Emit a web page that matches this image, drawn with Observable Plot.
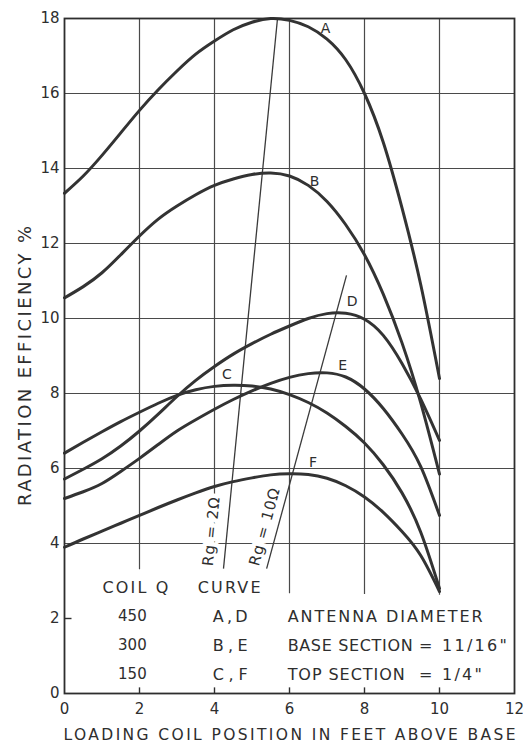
<!DOCTYPE html>
<html>
<head>
<meta charset="utf-8">
<script src="https://cdn.jsdelivr.net/npm/d3@7"></script>
<script src="https://cdn.jsdelivr.net/npm/@observablehq/plot@0.6"></script>
<style>
  html, body { margin: 0; padding: 0; background: #ffffff; }
  #chart svg { display: block; }
  g[aria-description="rglabel"] text { letter-spacing: 1px; }
</style>
</head>
<body>
<div id="chart"></div>
<script>
// ---- data ----
const positions = [0,0.5,1,1.5,2,2.5,3,3.5,4,4.5,5,5.5,6,6.5,7,7.5,8,8.5,9,9.5,10];
const curveA = [13.34,13.8,14.35,14.95,15.55,16.1,16.6,17.05,17.4,17.7,17.9,18.0,17.95,17.78,17.45,16.9,16.0,14.7,12.95,10.9,8.4];
const curveB = [10.55,10.85,11.22,11.7,12.2,12.65,13.0,13.3,13.55,13.72,13.84,13.88,13.8,13.55,13.12,12.5,11.7,10.65,9.35,7.75,5.85];
const curveC = [6.41,6.7,6.98,7.25,7.5,7.74,7.95,8.1,8.19,8.22,8.2,8.12,7.97,7.76,7.48,7.12,6.68,6.1,5.35,4.3,2.8];
const curveD = [5.72,5.98,6.26,6.6,7.0,7.45,7.92,8.35,8.72,9.05,9.33,9.58,9.8,10.0,10.13,10.14,9.98,9.55,8.8,7.85,6.75];
const curveE = [5.2,5.38,5.6,5.92,6.27,6.64,7.0,7.3,7.58,7.84,8.07,8.27,8.43,8.53,8.55,8.44,8.12,7.6,6.92,6.05,4.75];
const curveF = [3.9,4.12,4.33,4.54,4.75,4.96,5.16,5.35,5.52,5.65,5.75,5.83,5.86,5.84,5.74,5.54,5.24,4.83,4.32,3.68,2.72];
const seriesNames = ["A","B","C","D","E","F"];
const seriesValues = [curveA, curveB, curveC, curveD, curveE, curveF];

const labelX = [6.96, 6.67, 4.33, 7.67, 7.42, 6.63];
const labelY = [17.72, 13.65, 8.51, 10.45, 8.75, 6.16];

const rgNames = ["Rg = 2Ω", "Rg = 10Ω"];
const rgX1 = [4.24, 5.39];
const rgY1 = [3.33, 3.33];
const rgX2 = [5.68, 7.52];
const rgY2 = [18.0, 11.15];
const rgLabelX = [3.92, 5.34];
const rgLabelY = [4.33, 4.45];

const xTicks = [0,2,4,6,8,10,12];
const yTicks = [0,2,4,6,8,10,12,14,16,18];
const gridY = [4,6,8,10,12,14,16];
const gridX = [2,4,6,8,10];
const gridXBottom = [3.3,3.9,2.66,2.64,2.62];
const innerTicksX = [2,4,6,8,10];
const innerTicksY = [2];

const legendHeader = ["COIL Q", "CURVE"];
const coilQ = ["450", "300", "150"];
const curvePairs = ["A , D", "B , E", "C , F"];
const notes = ["ANTENNA DIAMETER", "BASE SECTION", "TOP SECTION"];
const noteValues = ["", "= 11/16\"", "= 1/4\""];

const xTitle = "LOADING COIL POSITION IN FEET ABOVE BASE";
const yTitle = "RADIATION EFFICIENCY %";

// ---- layout ----
const W = 523, H = 747;
const mL = 64, mR = 9, mT = 18, mB = 54;
const kx = (W - mL - mR) / 12, ky = (H - mT - mB) / 18;
const ink = "#2e2e2e";
const font = "DejaVu Sans";

// rendered widths (px) of the spaced-out lettering, as in the reference
const textWidths = new Map([
  [xTitle, 452], [yTitle, 280],
  ["COIL Q", 66], ["CURVE", 63],
  ["A , D", 35], ["B , E", 35], ["C , F", 35],
  ["ANTENNA DIAMETER", 195], ["BASE SECTION", 125], ["TOP SECTION", 117],
  ["= 11/16\"", 88], ["= 1/4\"", 63]
]);

const curveTable = [];
seriesNames.forEach((name, i) => positions.forEach((x, j) => curveTable.push({series: name, x, y: seriesValues[i][j]})));
const labelTable = seriesNames.map((s, i) => ({s, x: labelX[i], y: labelY[i]}));
const rgTable = rgNames.map((name, i) => ({
  name, x1: rgX1[i], y1: rgY1[i], x2: rgX2[i], y2: rgY2[i], lx: rgLabelX[i], ly: rgLabelY[i],
  angle: Math.atan2(-(rgY2[i] - rgY1[i]) * ky, (rgX2[i] - rgX1[i]) * kx) * 180 / Math.PI
}));
const gridXTable = gridX.map((x, i) => ({x, y1: gridXBottom[i]}));

// legend layout (data-space rows)
const headerY = 2.83;
const rowY = [2.05, 1.28, 0.51];
const colQ = 1.81, colCurve = 3.95, colNote = 5.95, colEq = 9.45;
const headerX = [1.01, 3.55];

const legendRows = coilQ.map((q, i) => ({q, c: curvePairs[i], n: notes[i], v: noteValues[i], y: rowY[i]}));
const headerRows = legendHeader.map((h, i) => ({h, x: headerX[i], y: headerY}));

const rgMarks = rgTable.map(d => Plot.text([d], {
  x: "lx", y: "ly", text: "name", rotate: d.angle, fontSize: 15, fill: ink,
  stroke: "white", strokeWidth: 9, paintOrder: "stroke", ariaDescription: "rglabel"
}));

const chart = Plot.plot({
  width: W, height: H,
  marginLeft: mL, marginRight: mR, marginTop: mT, marginBottom: mB,
  x: {domain: [0, 12]},
  y: {domain: [0, 18]},
  style: {fontFamily: font, fontSize: "15px", color: ink, background: "white"},
  marks: [
    Plot.ruleY(gridY, {x1: 0, x2: 12, stroke: "#4a4a4a", strokeWidth: 1.2}),
    Plot.ruleX(gridXTable, {x: "x", y1: "y1", y2: 18, stroke: "#4a4a4a", strokeWidth: 1.2}),
    Plot.ruleX(innerTicksX, {y1: 0, y2: 0.15, stroke: ink, strokeWidth: 1.4}),
    Plot.ruleY(innerTicksY, {x1: 0, x2: 0.2, stroke: ink, strokeWidth: 1.4}),
    ...rgMarks,
    Plot.link(rgTable, {x1: "x1", y1: "y1", x2: "x2", y2: "y2", stroke: "#3a3a3a", strokeWidth: 1.3}),
    Plot.line(curveTable, {x: "x", y: "y", z: "series", curve: "natural", stroke: "#333", strokeWidth: 3}),
    Plot.frame({stroke: ink, strokeWidth: 1.8}),
    Plot.text(labelTable, {x: "x", y: "y", text: "s", fontSize: 14, fill: ink}),
    Plot.text(headerRows, {x: "x", y: "y", text: "h", textAnchor: "start", fontSize: 16, fill: ink}),
    Plot.text(legendRows, {x: colQ, y: "y", text: "q", fontSize: 15, fill: ink}),
    Plot.text(legendRows, {x: colCurve, y: "y", text: "c", textAnchor: "start", fontSize: 16, fill: ink}),
    Plot.text(legendRows, {x: colNote, y: "y", text: "n", textAnchor: "start", fontSize: 16, fill: ink}),
    Plot.text(legendRows, {x: colEq, y: "y", text: "v", textAnchor: "start", fontSize: 16, fill: ink}),
    Plot.axisX(xTicks, {tickSize: 0, tickPadding: 10, label: null, fontSize: 15}),
    Plot.axisY(yTicks, {tickSize: 0, tickPadding: 5, label: null, fontSize: 15}),
    Plot.text([xTitle], {frameAnchor: "bottom", textAnchor: "middle", lineAnchor: "middle", dy: 42, fontSize: 15.5, fill: ink}),
    Plot.text([yTitle], {frameAnchor: "left", textAnchor: "middle", lineAnchor: "middle", dx: -39, dy: 10, rotate: -90, fontSize: 18, fill: ink})
  ]
});
d3.select(chart).selectAll("text").each(function() {
  const w = textWidths.get(this.textContent);
  if (w) {
    this.setAttribute("textLength", w);
    this.setAttribute("lengthAdjust", "spacing");
  }
});
document.getElementById("chart").appendChild(chart);
</script>
</body>
</html>
